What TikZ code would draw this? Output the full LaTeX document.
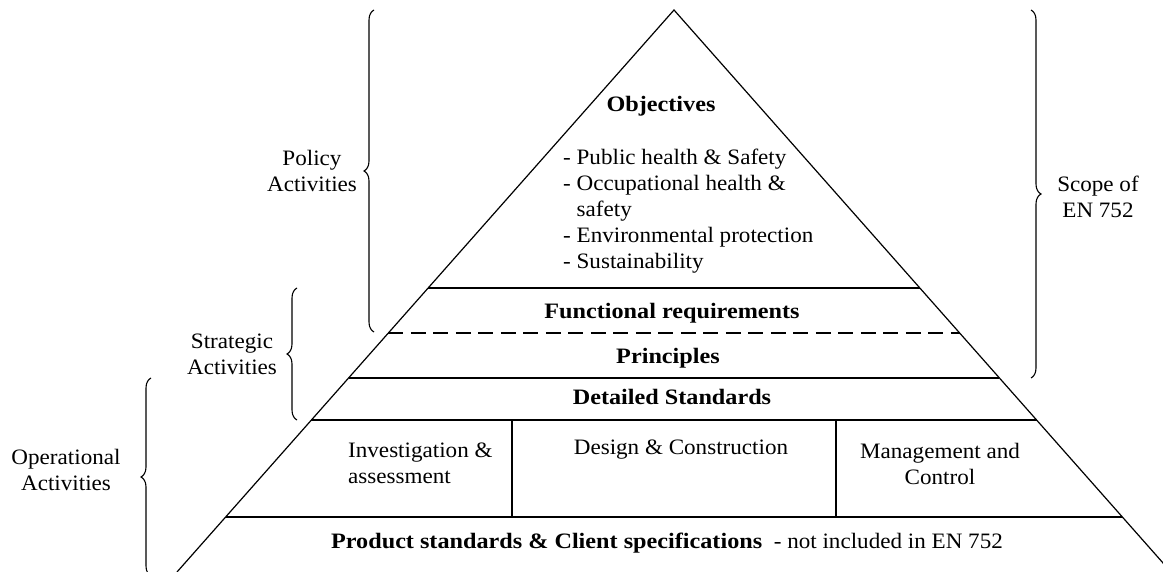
\documentclass[tikz,border=0pt]{standalone}
\usepackage{fontspec}
\setmainfont{Liberation Serif}[FakeStretch=1.05,BoldFeatures={FakeStretch=1.10}]
\usetikzlibrary{calc,decorations.pathreplacing}
\begin{document}
\begin{tikzpicture}[x=1pt,y=-1pt,
  edge/.style={line width=1.2pt},
  sep/.style={line width=1.2pt},
  dashsep/.style={line width=1.2pt,dash pattern=on 15pt off 7.5pt},
  bracebar/.style={line width=1.1pt,decorate,decoration={brace,amplitude=10pt}},
  lbl/.style={inner sep=0pt,align=center,font=\fontsize{22}{26}\selectfont},
  lvl/.style={inner sep=0pt,font=\fontsize{22}{26}\selectfont\bfseries},
  txt/.style={inner sep=0pt,font=\fontsize{22}{26}\selectfont}
]
\useasboundingbox (0,0) rectangle (1163,572);
\clip (0,0) rectangle (1163,572);
% pyramid
\coordinate (A) at (674,10);
\coordinate (BL) at (177,572);
\coordinate (BR) at (1171,572);
\draw[edge] (BL) -- (A) -- (BR);
\foreach \n/\t in {1/0.4947,2/0.5747,3/0.6548,4/0.7295,5/0.9021}{
  \coordinate (L\n) at ($(A)!\t!(BL)$);
  \coordinate (R\n) at ($(A)!\t!(BR)$);
}
\draw[sep] (L1) -- (R1);
\draw[dashsep] (L2) -- (R2);
\draw[sep] (L3) -- (R3);
\draw[sep] (L4) -- (R4);
\draw[sep] (L5) -- (R5);
\coordinate (D1t) at (512,420); \coordinate (D1b) at (512,517);
\coordinate (D2t) at (836,420); \coordinate (D2b) at (836,517);
\draw[sep] (D1t) -- (D1b);
\draw[sep] (D2t) -- (D2b);
% texts
\node[lvl] (obj) at (661,106) {Objectives};
\node[txt,anchor=west,align=left] (list) at (563,211) {- Public health \& Safety\\- Occupational health \&\\\hphantom{- }safety\\- Environmental protection\\- Sustainability};
\node[lvl] (func) at (672,313) {Functional requirements};
\node[lvl] (princ) at (668,358) {Principles};
\node[lvl] (det) at (672,397) {Detailed Standards};
\node[txt,anchor=west,align=left] (inv) at (348,463) {Investigation \&\\assessment};
\node[txt] (des) at (681,450) {Design \& Construction};
\node[lbl] (man) at (940,464) {Management and\\Control};
\node[txt] (prod) at (667,543) {\textbf{Product standards \& Client specifications}\ \ - not included in EN 752};
% braces
\coordinate (Pb) at (374,332); \coordinate (Pt) at (374,10);
\draw[bracebar] (Pb) -- (Pt);
\node[lbl] (pol) at (312,171) {Policy\\Activities};
\coordinate (Sb) at (297,420); \coordinate (St) at (297,288);
\draw[bracebar] (Sb) -- (St);
\node[lbl] (str) at (232,354) {Strategic\\Activities};
\coordinate (Ob) at (151,576); \coordinate (Ot) at (151,378);
\draw[bracebar] (Ob) -- (Ot);
\node[lbl] (ope) at (66,470) {Operational\\Activities};
\coordinate (Ct) at (1031,10); \coordinate (Cb) at (1031,378);
\draw[bracebar] (Ct) -- (Cb);
\node[lbl] (sco) at (1098,197) {Scope of\\EN 752};
\end{tikzpicture}
\end{document}
